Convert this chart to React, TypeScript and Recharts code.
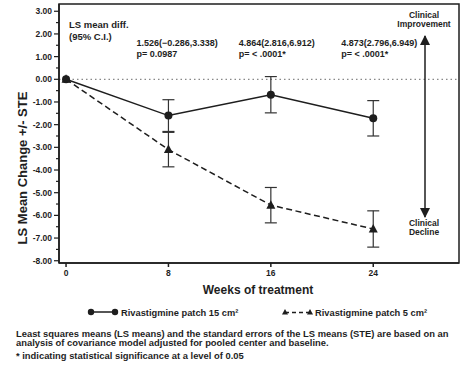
import { ComposedChart, Line, XAxis, YAxis, ErrorBar, ReferenceLine } from 'recharts';

const weeks = [0, 8, 16, 24];
const mean15 = [0, -1.6, -0.68, -1.72];
const ste15 = [0, 0.7, 0.8, 0.78];
const mean5 = [0, -3.1, -5.55, -6.6];
const ste5 = [0, 0.76, 0.78, 0.8];
const yTicks = [3, 2.5, 2, 1.5, 1, 0.5, 0, -0.5, -1, -1.5, -2, -2.5, -3, -3.5, -4, -4.5, -5, -5.5, -6, -6.5, -7, -7.5, -8];
const diffLabels = [
  { week: 8, text: '1.526(\u22120.286,3.338)', p: 'p= 0.0987' },
  { week: 16, text: '4.864(2.816,6.912)', p: 'p= < .0001*' },
  { week: 24, text: '4.873(2.796,6.949)', p: 'p= < .0001*' },
];
const footnotes = [
  'Least squares means (LS means) and the standard errors of the LS means (STE) are based on an',
  'analysis of covariance model adjusted for pooled center and baseline.',
  '* indicating statistical significance at a level of 0.05',
];

const data = weeks.map((w, i) => ({
  week: w,
  m15: mean15[i],
  e15: ste15[i],
  m5: mean5[i],
  e5: ste5[i],
}));

const INK = '#1e1e1e';
const FONT = '"Liberation Sans", Arial, sans-serif';

const YTick = (props: any) => {
  const { x, y, payload } = props;
  const v = payload.value;
  const major = Number.isInteger(v);
  const ax = x + 6;
  return (
    <g>
      <line x1={ax} x2={ax - (major ? 5 : 3)} y1={y} y2={y} stroke={INK} strokeWidth={1.2} />
      {major && (
        <text x={x - 1} y={y} dy={3} textAnchor="end" fontSize={8.5} fontWeight="bold" fill={INK} fontFamily={FONT}>
          {v.toFixed(2)}
        </text>
      )}
    </g>
  );
};

const CircleDot = (props: any) => {
  const { cx, cy, index } = props;
  return <circle key={`c-${index}`} cx={cx} cy={cy} r={4} fill={INK} />;
};

const TriDot = (props: any) => {
  const { cx, cy, index } = props;
  return (
    <polygon
      key={`t-${index}`}
      points={`${cx},${cy - 5} ${cx - 4.5},${cy + 3.5} ${cx + 4.5},${cy + 3.5}`}
      fill={INK}
    />
  );
};

const xPx = (w: number) => 66 + w * 12.8;

export default function App() {
  return (
    <div style={{ position: 'absolute', left: 0, top: 0, width: 474, height: 369, background: '#fff', fontFamily: FONT }}>
      <ComposedChart width={474} height={369} data={data} margin={{ top: 4, right: 15, bottom: 86, left: 0 }}>
        <XAxis
          dataKey="week"
          type="number"
          domain={[-0.55, 30.7]}
          ticks={weeks}
          allowDataOverflow
          height={20}
          stroke={INK}
          strokeWidth={1.5}
          tickSize={4}
          tickMargin={3}
          tick={{ fontSize: 8.5, fontWeight: 'bold', fill: INK, fontFamily: FONT }}
        />
        <YAxis
          type="number"
          domain={[-8.1, 3.32]}
          ticks={yTicks}
          allowDataOverflow
          interval={0}
          width={59}
          stroke={INK}
          strokeWidth={1.5}
          tickLine={false}
          tickSize={4}
          tickMargin={2}
          tick={<YTick />}
        />
        <ReferenceLine y={0} stroke="#888" strokeDasharray="1.5 3" strokeWidth={1.2} />
        <Line
          dataKey="m15"
          stroke={INK}
          strokeWidth={1.5}
          dot={<CircleDot />}
          isAnimationActive={false}
        >
          <ErrorBar dataKey="e15" width={6} stroke="#333" strokeWidth={1.2} direction="y" />
        </Line>
        <Line
          dataKey="m5"
          stroke={INK}
          strokeWidth={1.5}
          strokeDasharray="6 3.5"
          dot={<TriDot />}
          isAnimationActive={false}
        >
          <ErrorBar dataKey="e5" width={6} stroke="#333" strokeWidth={1.2} direction="y" />
        </Line>
      </ComposedChart>
      <svg width={474} height={369} style={{ position: 'absolute', left: 0, top: 0, pointerEvents: 'none' }} fontFamily={FONT} fontWeight="bold" fill={INK}>
        <defs>
          <marker id="ah" viewBox="0 0 10 10" refX="9" refY="5" markerWidth="7" markerHeight="7" orient="auto-start-reverse">
            <path d="M0,0 L10,5 L0,10 z" fill={INK} />
          </marker>
        </defs>
        <rect x={59} y={4} width={400} height={259} fill="none" stroke={INK} strokeWidth={1.5} />
        <text x={23} y={168} fontSize={13} textAnchor="middle" transform="rotate(-90 23 168)" dy={4}>
          LS Mean Change +/- STE
        </text>
        <text x={69} y={28} fontSize={9.5}>LS mean diff.</text>
        <text x={69} y={40} fontSize={9.5}>(95% C.I.)</text>
        {diffLabels.map((d) => (
          <g key={d.week}>
            <text x={xPx(d.week) - 32} y={46} fontSize={9}>{d.text}</text>
            <text x={xPx(d.week) - 32} y={57} fontSize={9}>{d.p}</text>
          </g>
        ))}
        <text x={424} y={18} fontSize={8.5} textAnchor="middle">Clinical</text>
        <text x={424} y={27} fontSize={8.5} textAnchor="middle">Improvement</text>
        <line x1={425} x2={425} y1={36} y2={217} stroke={INK} strokeWidth={1.5} markerStart="url(#ah)" markerEnd="url(#ah)" />
        <text x={424} y={226} fontSize={8.5} textAnchor="middle">Clinical</text>
        <text x={424} y={235} fontSize={8.5} textAnchor="middle">Decline</text>
        <text x={258} y={294} fontSize={12} textAnchor="middle">Weeks of treatment</text>
        <line x1={91} x2={115} y1={312} y2={312} stroke={INK} strokeWidth={1.5} />
        <circle cx={91} cy={312} r={3.2} />
        <circle cx={115} cy={312} r={3.2} />
        <text x={121} y={315.5} fontSize={9.3}>Rivastigmine patch 15 cm²</text>
        <line x1={285} x2={310} y1={312.5} y2={312.5} stroke={INK} strokeWidth={1.3} strokeDasharray="4 3" />
        <polygon points="285,309 282,314.5 288,314.5" />
        <polygon points="310,309 307,314.5 313,314.5" />
        <text x={315} y={315.5} fontSize={9.3}>Rivastigmine patch 5 cm²</text>
        {footnotes.map((f, i) => (
          <text key={i} x={16} y={[336.5, 346, 358.5][i]} fontSize={9.4}>{f}</text>
        ))}
      </svg>
    </div>
  );
}
